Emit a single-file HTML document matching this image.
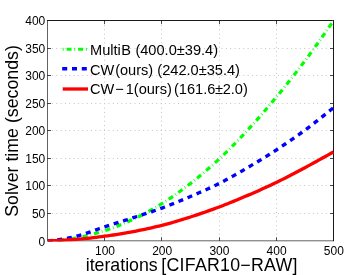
<!DOCTYPE html>
<html><head><meta charset="utf-8"><title>plot</title>
<style>html,body{margin:0;padding:0;background:#fff;overflow:hidden}body{width:349px;height:275px;position:relative;font-family:"Liberation Sans",sans-serif}</style>
</head><body>
<svg width="349" height="275" viewBox="0 0 349 275" style="position:absolute;left:0;top:0;will-change:transform">
<rect width="349" height="275" fill="#fff"/>
<g stroke="#555" stroke-width="1" stroke-dasharray="1 3.35" fill="none" opacity="0.34"><line x1="104.50" y1="20.6" x2="104.50" y2="240.8"/><line x1="161.50" y1="20.6" x2="161.50" y2="240.8"/><line x1="219.50" y1="20.6" x2="219.50" y2="240.8"/><line x1="276.50" y1="20.6" x2="276.50" y2="240.8"/><line x1="47.5" y1="213.50" x2="333.5" y2="213.50"/><line x1="47.5" y1="185.50" x2="333.5" y2="185.50"/><line x1="47.5" y1="158.50" x2="333.5" y2="158.50"/><line x1="47.5" y1="130.50" x2="333.5" y2="130.50"/><line x1="47.5" y1="103.50" x2="333.5" y2="103.50"/><line x1="47.5" y1="75.50" x2="333.5" y2="75.50"/><line x1="47.5" y1="48.50" x2="333.5" y2="48.50"/></g>
<path d="M47.5,240.8 L47.5,20.6" fill="none" stroke="#000" stroke-width="0.62"/>
<path d="M47.5,240.8 L333.5,240.8" fill="none" stroke="#000" stroke-width="0.62"/>
<path d="M47.0,20.5 L334.0,20.5 M333.5,20 L333.5,241.20000000000002" fill="none" stroke="#000" stroke-width="0.9"/>
<g stroke="#000" stroke-width="0.7"><line x1="104.50" y1="240.8" x2="104.50" y2="237.3"/><line x1="104.50" y1="20.6" x2="104.50" y2="24.1"/><line x1="161.50" y1="240.8" x2="161.50" y2="237.3"/><line x1="161.50" y1="20.6" x2="161.50" y2="24.1"/><line x1="219.50" y1="240.8" x2="219.50" y2="237.3"/><line x1="219.50" y1="20.6" x2="219.50" y2="24.1"/><line x1="276.50" y1="240.8" x2="276.50" y2="237.3"/><line x1="276.50" y1="20.6" x2="276.50" y2="24.1"/><line x1="47.5" y1="213.50" x2="51.0" y2="213.50"/><line x1="333.5" y1="213.50" x2="330.0" y2="213.50"/><line x1="47.5" y1="185.50" x2="51.0" y2="185.50"/><line x1="333.5" y1="185.50" x2="330.0" y2="185.50"/><line x1="47.5" y1="158.50" x2="51.0" y2="158.50"/><line x1="333.5" y1="158.50" x2="330.0" y2="158.50"/><line x1="47.5" y1="130.50" x2="51.0" y2="130.50"/><line x1="333.5" y1="130.50" x2="330.0" y2="130.50"/><line x1="47.5" y1="103.50" x2="51.0" y2="103.50"/><line x1="333.5" y1="103.50" x2="330.0" y2="103.50"/><line x1="47.5" y1="75.50" x2="51.0" y2="75.50"/><line x1="333.5" y1="75.50" x2="330.0" y2="75.50"/><line x1="47.5" y1="48.50" x2="51.0" y2="48.50"/><line x1="333.5" y1="48.50" x2="330.0" y2="48.50"/></g>
<clipPath id="c"><rect x="47.2" y="19.900000000000002" width="286.6" height="221.60000000000002"/></clipPath>
<g fill="none" clip-path="url(#c)">
<path d="M47.50,240.80 L50.36,240.75 L53.22,240.64 L56.08,240.48 L58.94,240.29 L61.80,240.09 L64.66,239.83 L67.52,239.49 L70.38,239.07 L73.24,238.61 L76.10,238.12 L78.96,237.59 L81.82,237.00 L84.68,236.35 L87.54,235.65 L90.40,234.90 L93.26,234.12 L96.12,233.29 L98.98,232.44 L101.84,231.57 L104.70,230.67 L107.56,229.74 L110.42,228.75 L113.28,227.70 L116.14,226.61 L119.00,225.47 L121.86,224.28 L124.72,223.07 L127.58,221.81 L130.44,220.53 L133.30,219.22 L136.16,217.87 L139.02,216.47 L141.88,215.02 L144.74,213.52 L147.60,211.98 L150.46,210.39 L153.32,208.76 L156.18,207.09 L159.04,205.38 L161.90,203.64 L164.76,201.85 L167.62,200.00 L170.48,198.08 L173.34,196.12 L176.20,194.10 L179.06,192.04 L181.92,189.94 L184.78,187.80 L187.64,185.64 L190.50,183.44 L193.36,181.20 L196.22,178.92 L199.08,176.59 L201.94,174.22 L204.80,171.79 L207.66,169.33 L210.52,166.82 L213.38,164.27 L216.24,161.68 L219.10,159.05 L221.96,156.37 L224.82,153.63 L227.68,150.83 L230.54,147.98 L233.40,145.09 L236.26,142.15 L239.12,139.17 L241.98,136.16 L244.84,133.11 L247.70,130.04 L250.56,126.93 L253.42,123.77 L256.28,120.57 L259.14,117.32 L262.00,114.04 L264.86,110.72 L267.72,107.36 L270.58,103.97 L273.44,100.56 L276.30,97.12 L279.16,93.65 L282.02,90.15 L284.88,86.61 L287.74,83.04 L290.60,79.44 L293.46,75.79 L296.32,72.11 L299.18,68.39 L302.04,64.64 L304.90,60.84 L307.76,57.00 L310.62,53.12 L313.48,49.20 L316.34,45.24 L319.20,41.23 L322.06,37.18 L324.92,33.10 L327.78,28.97 L330.64,24.80 L333.50,20.60" stroke="#00ff00" stroke-width="3.2" stroke-dasharray="5.2 3.0 0.6 3.0"/>
<path d="M47.50,240.80 L50.36,240.68 L53.22,240.47 L56.08,240.15 L58.94,239.70 L61.80,239.21 L64.66,238.74 L67.52,238.24 L70.38,237.68 L73.24,237.06 L76.10,236.35 L78.96,235.57 L81.82,234.74 L84.68,233.84 L87.54,232.88 L90.40,231.89 L93.26,230.87 L96.12,229.81 L98.98,228.77 L101.84,227.80 L104.70,226.87 L107.56,225.94 L110.42,225.02 L113.28,224.11 L116.14,223.20 L119.00,222.29 L121.86,221.38 L124.72,220.46 L127.58,219.54 L130.44,218.61 L133.30,217.68 L136.16,216.74 L139.02,215.81 L141.88,214.88 L144.74,213.94 L147.60,213.00 L150.46,212.05 L153.32,211.08 L156.18,210.09 L159.04,209.08 L161.90,208.05 L164.76,206.98 L167.62,205.89 L170.48,204.77 L173.34,203.63 L176.20,202.48 L179.06,201.30 L181.92,200.11 L184.78,198.91 L187.64,197.70 L190.50,196.48 L193.36,195.26 L196.22,194.03 L199.08,192.80 L201.94,191.54 L204.80,190.28 L207.66,188.99 L210.52,187.67 L213.38,186.33 L216.24,184.96 L219.10,183.55 L221.96,182.09 L224.82,180.59 L227.68,179.05 L230.54,177.48 L233.40,175.87 L236.26,174.24 L239.12,172.59 L241.98,170.93 L244.84,169.26 L247.70,167.58 L250.56,165.90 L253.42,164.20 L256.28,162.49 L259.14,160.76 L262.00,159.01 L264.86,157.25 L267.72,155.46 L270.58,153.65 L273.44,151.82 L276.30,149.97 L279.16,148.09 L282.02,146.19 L284.88,144.27 L287.74,142.33 L290.60,140.37 L293.46,138.37 L296.32,136.36 L299.18,134.32 L302.04,132.25 L304.90,130.15 L307.76,128.02 L310.62,125.87 L313.48,123.68 L316.34,121.46 L319.20,119.22 L322.06,116.95 L324.92,114.64 L327.78,112.32 L330.64,109.96 L333.50,107.58" stroke="#0000ff" stroke-width="3.4" stroke-dasharray="5.0 4.8"/>
<path d="M47.50,240.80 L50.36,240.73 L53.22,240.64 L56.08,240.53 L58.94,240.40 L61.80,240.26 L64.66,240.10 L67.52,239.93 L70.38,239.75 L73.24,239.56 L76.10,239.37 L78.96,239.16 L81.82,238.91 L84.68,238.64 L87.54,238.34 L90.40,238.02 L93.26,237.69 L96.12,237.34 L98.98,236.98 L101.84,236.61 L104.70,236.23 L107.56,235.84 L110.42,235.43 L113.28,235.00 L116.14,234.56 L119.00,234.09 L121.86,233.61 L124.72,233.11 L127.58,232.60 L130.44,232.08 L133.30,231.55 L136.16,231.01 L139.02,230.45 L141.88,229.87 L144.74,229.28 L147.60,228.67 L150.46,228.04 L153.32,227.39 L156.18,226.72 L159.04,226.04 L161.90,225.33 L164.76,224.60 L167.62,223.84 L170.48,223.05 L173.34,222.23 L176.20,221.39 L179.06,220.53 L181.92,219.66 L184.78,218.77 L187.64,217.87 L190.50,216.96 L193.36,216.04 L196.22,215.11 L199.08,214.15 L201.94,213.18 L204.80,212.19 L207.66,211.18 L210.52,210.16 L213.38,209.12 L216.24,208.07 L219.10,207.00 L221.96,205.92 L224.82,204.81 L227.68,203.68 L230.54,202.54 L233.40,201.38 L236.26,200.21 L239.12,199.02 L241.98,197.82 L244.84,196.60 L247.70,195.38 L250.56,194.15 L253.42,192.91 L256.28,191.66 L259.14,190.39 L262.00,189.11 L264.86,187.81 L267.72,186.50 L270.58,185.17 L273.44,183.82 L276.30,182.45 L279.16,181.05 L282.02,179.64 L284.88,178.20 L287.74,176.74 L290.60,175.26 L293.46,173.76 L296.32,172.26 L299.18,170.74 L302.04,169.22 L304.90,167.69 L307.76,166.16 L310.62,164.61 L313.48,163.06 L316.34,161.49 L319.20,159.91 L322.06,158.31 L324.92,156.71 L327.78,155.10 L330.64,153.47 L333.50,151.84" stroke="#ff0000" stroke-width="3.3"/>
</g>
<g font-family="Liberation Sans, sans-serif" font-size="12px" fill="#000">
<text x="105.00" y="254.6" text-anchor="middle">100</text>
<text x="162.20" y="254.6" text-anchor="middle">200</text>
<text x="219.40" y="254.6" text-anchor="middle">300</text>
<text x="276.60" y="254.6" text-anchor="middle">400</text>
<text x="333.80" y="254.6" text-anchor="middle">500</text>
<text x="45.3" y="246" text-anchor="end">0</text>
<text x="45.3" y="218" text-anchor="end">50</text>
<text x="45.3" y="190" text-anchor="end">100</text>
<text x="45.3" y="163" text-anchor="end">150</text>
<text x="45.3" y="135" text-anchor="end">200</text>
<text x="45.3" y="108" text-anchor="end">250</text>
<text x="45.3" y="80" text-anchor="end">300</text>
<text x="45.3" y="53" text-anchor="end">350</text>
<text x="45.3" y="25" text-anchor="end">400</text>
</g>
<g font-family="Liberation Sans, sans-serif" font-size="17.75px" fill="#000">
<text x="85.7" y="271.1">iterations</text>
<text x="161.3" y="271.1" textLength="136.2" lengthAdjust="spacing">[CIFAR10−RAW]</text>
<text transform="translate(17.7,131.0) rotate(-90)" text-anchor="middle">Solver time (seconds)</text>
</g>
<g fill="none">
<line x1="62.7" y1="49.2" x2="88" y2="49.2" stroke="#00ff00" stroke-width="2.9" stroke-dasharray="0.9 3.0 4.9 2.8" stroke-dashoffset="0"/>
<line x1="62.2" y1="68.8" x2="87.2" y2="68.8" stroke="#0000ff" stroke-width="3.4" stroke-dasharray="5.0 4.8"/>
<line x1="62.7" y1="89.0" x2="88" y2="89.0" stroke="#ff0000" stroke-width="3.3"/>
</g>
<g font-family="Liberation Sans, sans-serif" font-size="14.6px" fill="#000">
<text x="90.0" y="54.5">Multi<tspan dx="0.4">B</tspan><tspan dx="0.4"> (400.0±39.4)</tspan></text>
<text x="90.0" y="74.5">CW<tspan dx="0.8">(ours)</tspan><tspan dx="0.0"> (</tspan><tspan letter-spacing="0.0">242.0±35.4)</tspan></text>
<text x="90.0" y="94.4">CW<tspan dx="1.0">−</tspan><tspan dx="1.8">1(ours)</tspan><tspan dx="-1.95"> (161.6</tspan><tspan dx="-0.5">±</tspan><tspan dx="-0.2">2.0)</tspan></text>
</g>
</svg>
</body></html>
